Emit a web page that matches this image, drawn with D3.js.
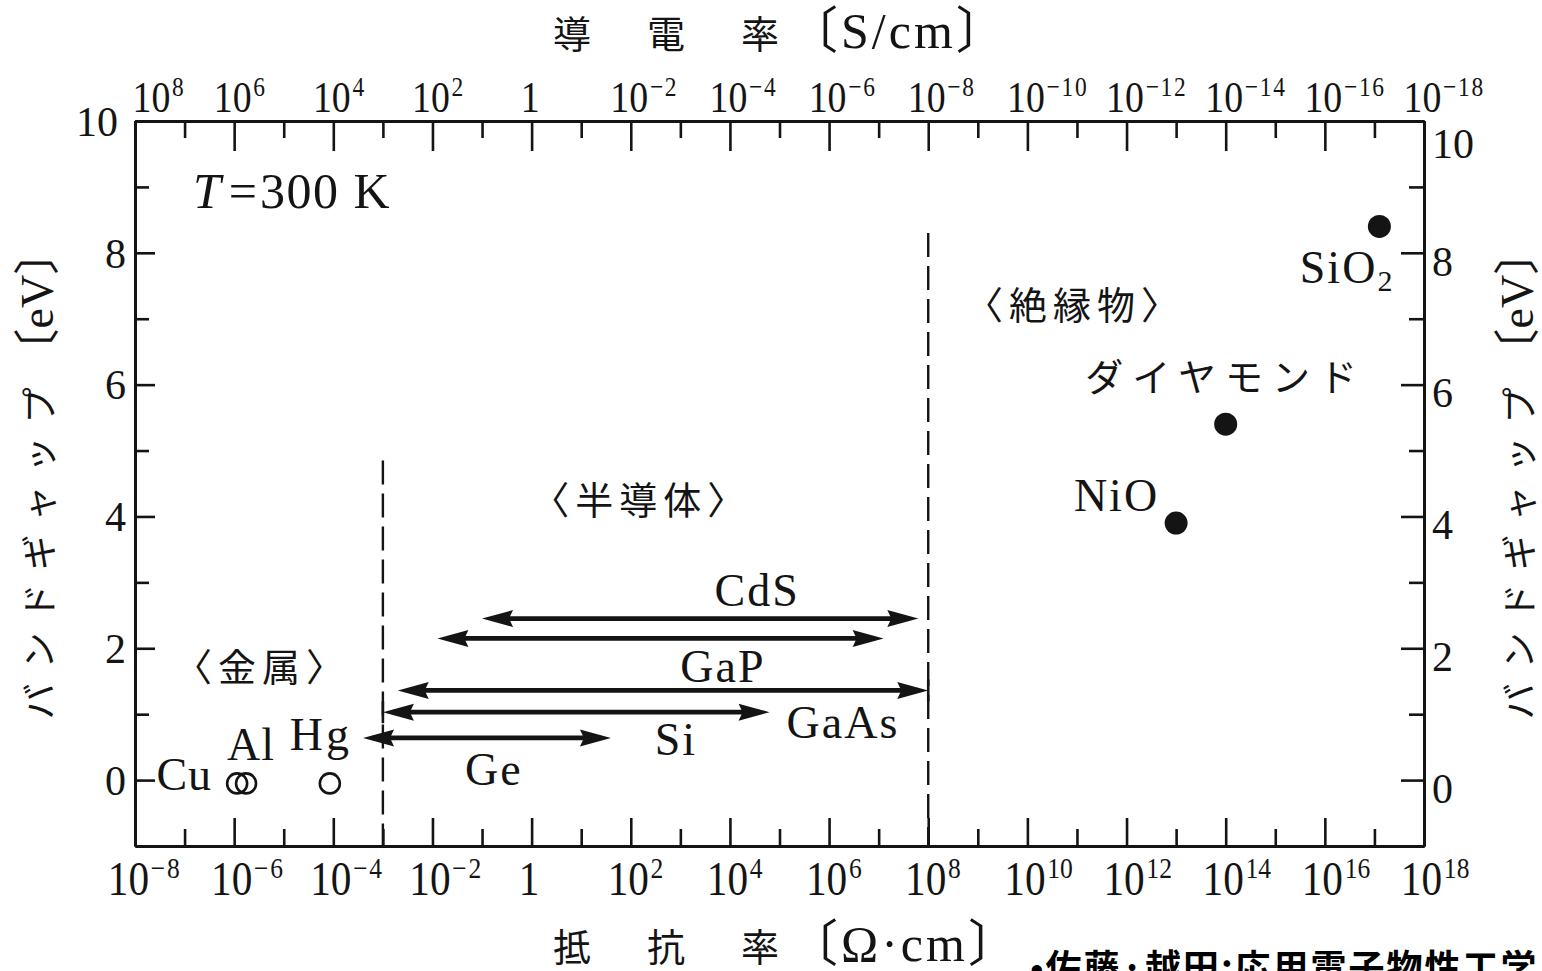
<!DOCTYPE html>
<html><head><meta charset="utf-8">
<script src="https://cdn.jsdelivr.net/npm/d3@7/dist/d3.min.js"></script>
<style>body{margin:0;background:#fff;overflow:hidden} svg{display:block}</style>
</head><body>
<svg id="chart" width="1542" height="971"></svg>
<script>
// ---------- data ----------
const resMajorExp = [-8,-6,-4,-2,0,2,4,6,8,10,12,14,16,18];      // log10 resistivity, labelled ticks
const resMinorExp = [-7,-5,-3,-1,1,3,5,7,9,11,13,15,17];          // unlabelled ticks
const gapMajorTicks = [0,2,4,6,8,10];
const gapMinorTicks = [1,3,5,7,9];

const semiNames = ["CdS","GaP","GaAs","Si","Ge"];
const semiGap = [2.45, 2.15, 1.36, 1.03, 0.64];
const semiLogMin = [-1.0, -1.9, -2.7, -3.0, -3.4];
const semiLogMax = [7.8, 7.1, 8.0, 4.8, 1.6];
const semiLabelLog = [4.55, 3.86, 6.28, 2.91, -0.76];

const metalNames = ["Cu","Al","Hg"];
const metalLogRho = [-5.94, -5.76, -4.07];
const metalGap = [-0.05, -0.05, -0.05];

const insNames = ["NiO","ダイヤモンド","SiO2"];
const insLogRho = [13.0, 14.0, 17.1];
const insGap = [3.9, 5.4, 8.4];

const boundaryLog = [-3, 8];
const boundaryTop = [4.85, 8.3];

const regionNames = ["〈金属〉","〈半導体〉","〈絶縁物〉"];
const regionLog = [-5.44, 2.21, 10.96];
const regionGap = [1.76, 4.29, 7.24];

// ---------- setup ----------
const svg = d3.select("#chart");
const ink = "#141414";
const serif = '"Liberation Serif","Times New Roman",serif';
const mixed = '"Liberation Serif","Noto Sans CJK JP",serif';
const cjk = '"Noto Sans CJK JP","Liberation Serif",sans-serif';
svg.append("rect").attr("width",1542).attr("height",971).attr("fill","#fff");

const x = d3.scaleLinear().domain([-8,18]).range([135,1424]);
const y = d3.scaleLinear().domain([-1,10]).range([846,121]);

function styleAxis(g, keepText){
  g.attr("font-size",null).attr("font-family",null);
  g.selectAll("path.domain").attr("stroke",ink).attr("stroke-width",3);
  g.selectAll(".tick line").attr("stroke",ink).attr("stroke-width",2.6);
  if(!keepText) g.selectAll(".tick text").remove();
}
function powLabel(sel, e, fs, sx, shift){
  sel.text(null).attr("fill",ink).attr("font-family",serif).attr("font-size",fs)
     .attr("transform",`translate(${shift||0},0) scale(${sx},1)`);
  if(e===0){ sel.attr("text-anchor","middle").attr("x",0).text("1"); return; }
  sel.attr("text-anchor","start").attr("x",-fs*0.5);
  sel.append("tspan").text("10");
  sel.append("tspan").attr("font-size",fs*0.62).attr("dx",2).attr("dy",-fs*0.36)
     .attr("letter-spacing",e<0?2:0)
     .text(e<0 ? "\u2212"+(-e) : String(e));
}

// bottom axis (resistivity)
const bMaj = svg.append("g").attr("transform",`translate(0,${y(-1)})`)
  .call(d3.axisBottom(x).tickValues(resMajorExp).tickSizeInner(-28).tickSizeOuter(0).tickPadding(15));
styleAxis(bMaj,true);
bMaj.selectAll(".tick text").each(function(d){ powLabel(d3.select(this), d, 48, 0.86, d===-8?-7:-3); });
const bMin = svg.append("g").attr("transform",`translate(0,${y(-1)})`)
  .call(d3.axisBottom(x).tickValues(resMinorExp).tickSizeInner(-17).tickSizeOuter(0));
styleAxis(bMin,false);

// top axis (conductivity = 1/resistivity)
const tMaj = svg.append("g").attr("transform",`translate(0,${y(10)})`)
  .call(d3.axisTop(x).tickValues(resMajorExp).tickSizeInner(-30).tickSizeOuter(0).tickPadding(9));
styleAxis(tMaj,true);
tMaj.selectAll(".tick text").each(function(d){ powLabel(d3.select(this), -d, 44, 0.86, d===-8?16:-2); });
const tMin = svg.append("g").attr("transform",`translate(0,${y(10)})`)
  .call(d3.axisTop(x).tickValues(resMinorExp).tickSizeInner(-17).tickSizeOuter(0));
styleAxis(tMin,false);

// left axis
const lMaj = svg.append("g").attr("transform",`translate(${x(-8)},0)`)
  .call(d3.axisLeft(y).tickValues(gapMajorTicks).tickSizeInner(-20).tickSizeOuter(0).tickPadding(9));
styleAxis(lMaj,true);
lMaj.selectAll(".tick text").attr("fill",ink).attr("font-family",serif).attr("font-size",42)
  .attr("dy","0.34em").attr("dx",d => d===10 ? -8 : 0);
const lMin = svg.append("g").attr("transform",`translate(${x(-8)},0)`)
  .call(d3.axisLeft(y).tickValues(gapMinorTicks).tickSizeInner(-14).tickSizeOuter(0));
styleAxis(lMin,false);

// right axis
const rMaj = svg.append("g").attr("transform",`translate(${x(18)},0)`)
  .call(d3.axisRight(y).tickValues(gapMajorTicks).tickSizeInner(-23).tickSizeOuter(0).tickPadding(8));
styleAxis(rMaj,true);
rMaj.selectAll(".tick text").attr("fill",ink).attr("font-family",serif).attr("font-size",42)
  .attr("dy",d => d===10 ? "0.88em" : "0.53em");
const rMin = svg.append("g").attr("transform",`translate(${x(18)},0)`)
  .call(d3.axisRight(y).tickValues(gapMinorTicks).tickSizeInner(-15).tickSizeOuter(0));
styleAxis(rMin,false);

// ---------- boundaries ----------
svg.append("g").selectAll("line").data(boundaryLog).join("line")
  .attr("x1",d=>x(d)).attr("x2",d=>x(d))
  .attr("y1",(d,i)=>y(boundaryTop[i])).attr("y2",y(-1))
  .attr("stroke",ink).attr("stroke-width",2.4).attr("stroke-dasharray","24,9");

// ---------- semiconductor arrows ----------
const headLen = 31, headHalf = 8.5, notch = 4;
function head(tipX, tipY, dir){ // dir = -1 points left, +1 points right
  const b = tipX - dir*headLen;
  return `M${tipX},${tipY} L${b},${tipY-headHalf} L${b+dir*notch},${tipY} L${b},${tipY+headHalf} Z`;
}
const ag = svg.append("g");
semiNames.forEach((n,i)=>{
  const yy = y(semiGap[i]), x0 = x(semiLogMin[i]), x1 = x(semiLogMax[i]);
  ag.append("line").attr("x1",x0+10).attr("x2",x1-10).attr("y1",yy).attr("y2",yy)
    .attr("stroke",ink).attr("stroke-width",4.8);
  ag.append("path").attr("d",head(x0,yy,-1)).attr("fill",ink);
  ag.append("path").attr("d",head(x1,yy,1)).attr("fill",ink);
});
// end bars where the range meets a boundary
[["Si","min"],["GaAs","max"]].forEach(([n,side])=>{
  const i = semiNames.indexOf(n);
  const xx = side==="min" ? x(semiLogMin[i]) : x(semiLogMax[i]);
  const yy = y(semiGap[i]);
  ag.append("line").attr("x1",xx).attr("x2",xx).attr("y1",yy-11).attr("y2",yy+11)
    .attr("stroke",ink).attr("stroke-width",2.6);
});
const semiLabelDy = {CdS:-13, GaP:44, GaAs:48, Si:43, Ge:47};
svg.append("g").selectAll("text").data(semiNames).join("text")
  .attr("x",(d,i)=>x(semiLabelLog[i])).attr("y",(d,i)=>y(semiGap[i])+semiLabelDy[d])
  .attr("text-anchor","middle").attr("font-family",serif).attr("font-size",46)
  .attr("letter-spacing",2).attr("fill",ink).text(d=>d);

// ---------- metals ----------
svg.append("g").selectAll("circle").data(metalNames).join("circle")
  .attr("cx",(d,i)=>x(metalLogRho[i])).attr("cy",(d,i)=>y(metalGap[i])).attr("r",10)
  .attr("fill","none").attr("stroke",ink).attr("stroke-width",2.6);
const metalLab = {Cu:{dx:-25,dy:7,a:"end",ls:1}, Al:{dx:-19,dy:-23,a:"start",ls:1}, Hg:{dx:-40,dy:-33,a:"start",ls:3}};
svg.append("g").selectAll("text").data(metalNames).join("text")
  .attr("x",(d,i)=>x(metalLogRho[i])+metalLab[d].dx).attr("y",(d,i)=>y(metalGap[i])+metalLab[d].dy)
  .attr("text-anchor",d=>metalLab[d].a).attr("font-family",serif).attr("font-size",46)
  .attr("letter-spacing",d=>metalLab[d].ls).attr("fill",ink).text(d=>d);

// ---------- insulators ----------
svg.append("g").selectAll("circle").data(insNames).join("circle")
  .attr("cx",(d,i)=>x(insLogRho[i])).attr("cy",(d,i)=>y(insGap[i])).attr("r",11.5).attr("fill",ink);
const insLab = {"NiO":{dx:-17,dy:-12,a:"end"}, "ダイヤモンド":{dx:0,dy:-50,a:"middle"}, "SiO2":{dx:15,dy:57,a:"end"}};
insNames.forEach((n,i)=>{
  const t = svg.append("text").attr("x",x(insLogRho[i])+insLab[n].dx).attr("y",y(insGap[i])+insLab[n].dy)
    .attr("text-anchor",insLab[n].a).attr("fill",ink);
  if(n==="ダイヤモンド"){
    t.attr("font-family",cjk).attr("font-size",38).attr("letter-spacing",9).attr("dominant-baseline","central").text(n);
  } else if(n==="SiO2"){
    t.attr("font-family",serif).attr("font-size",46).attr("letter-spacing",2);
    t.append("tspan").text("SiO");
    t.append("tspan").attr("font-size",30).attr("dy",8).text("2");
  } else {
    t.attr("font-family",serif).attr("font-size",46).attr("letter-spacing",2).text(n);
  }
});

// ---------- region labels ----------
svg.append("g").selectAll("text").data(regionNames).join("text")
  .attr("x",(d,i)=>x(regionLog[i])).attr("y",(d,i)=>y(regionGap[i]))
  .attr("text-anchor","middle").attr("dominant-baseline","central")
  .attr("font-family",cjk).attr("font-size",38).attr("letter-spacing",6).attr("fill",ink).text(d=>d);

// T = 300 K
const tt = svg.append("text").attr("x",x(-6.83)).attr("y",y(8.68))
  .attr("font-family",serif).attr("font-size",50).attr("fill",ink);
tt.append("tspan").attr("font-style","italic").text("T");
tt.append("tspan").attr("dx",8).text("=");
tt.append("tspan").attr("dx",3).attr("letter-spacing",1.5).text("300 K");

// ---------- axis titles ----------
function hTitle(chars, unit, yy){
  const t = svg.append("text").attr("x",553).attr("y",yy).attr("fill",ink).attr("font-size",38);
  t.append("tspan").attr("font-family",cjk).attr("letter-spacing",9).text(chars);
  t.append("tspan").attr("font-family",mixed).attr("font-size",50).attr("letter-spacing",3).text(unit);
}
hTitle("導　電　率", "〔S/cm〕", 48);
hTitle("抵　抗　率", "〔Ω·cm〕", 961);

function vTitle(cx){
  const t = svg.append("text").attr("transform",`translate(${cx},474) rotate(-90)`)
    .attr("text-anchor","middle").attr("dominant-baseline","central").attr("fill",ink).attr("font-size",36);
  t.append("tspan").attr("font-family",cjk).attr("letter-spacing",13).text("バンドギャップ");
  t.append("tspan").attr("font-family",mixed).attr("font-size",46).text("〔eV〕");
}
vTitle(37); vTitle(1517);

// source note (cut by the bottom edge, as in the original)
svg.append("text").attr("x",1030).attr("y",981).attr("font-family",cjk).attr("font-weight","bold")
  .attr("font-size",36).attr("letter-spacing",2).attr("fill","#000").text("•佐藤·越田:応用電子物性工学");
</script>
</body></html>
